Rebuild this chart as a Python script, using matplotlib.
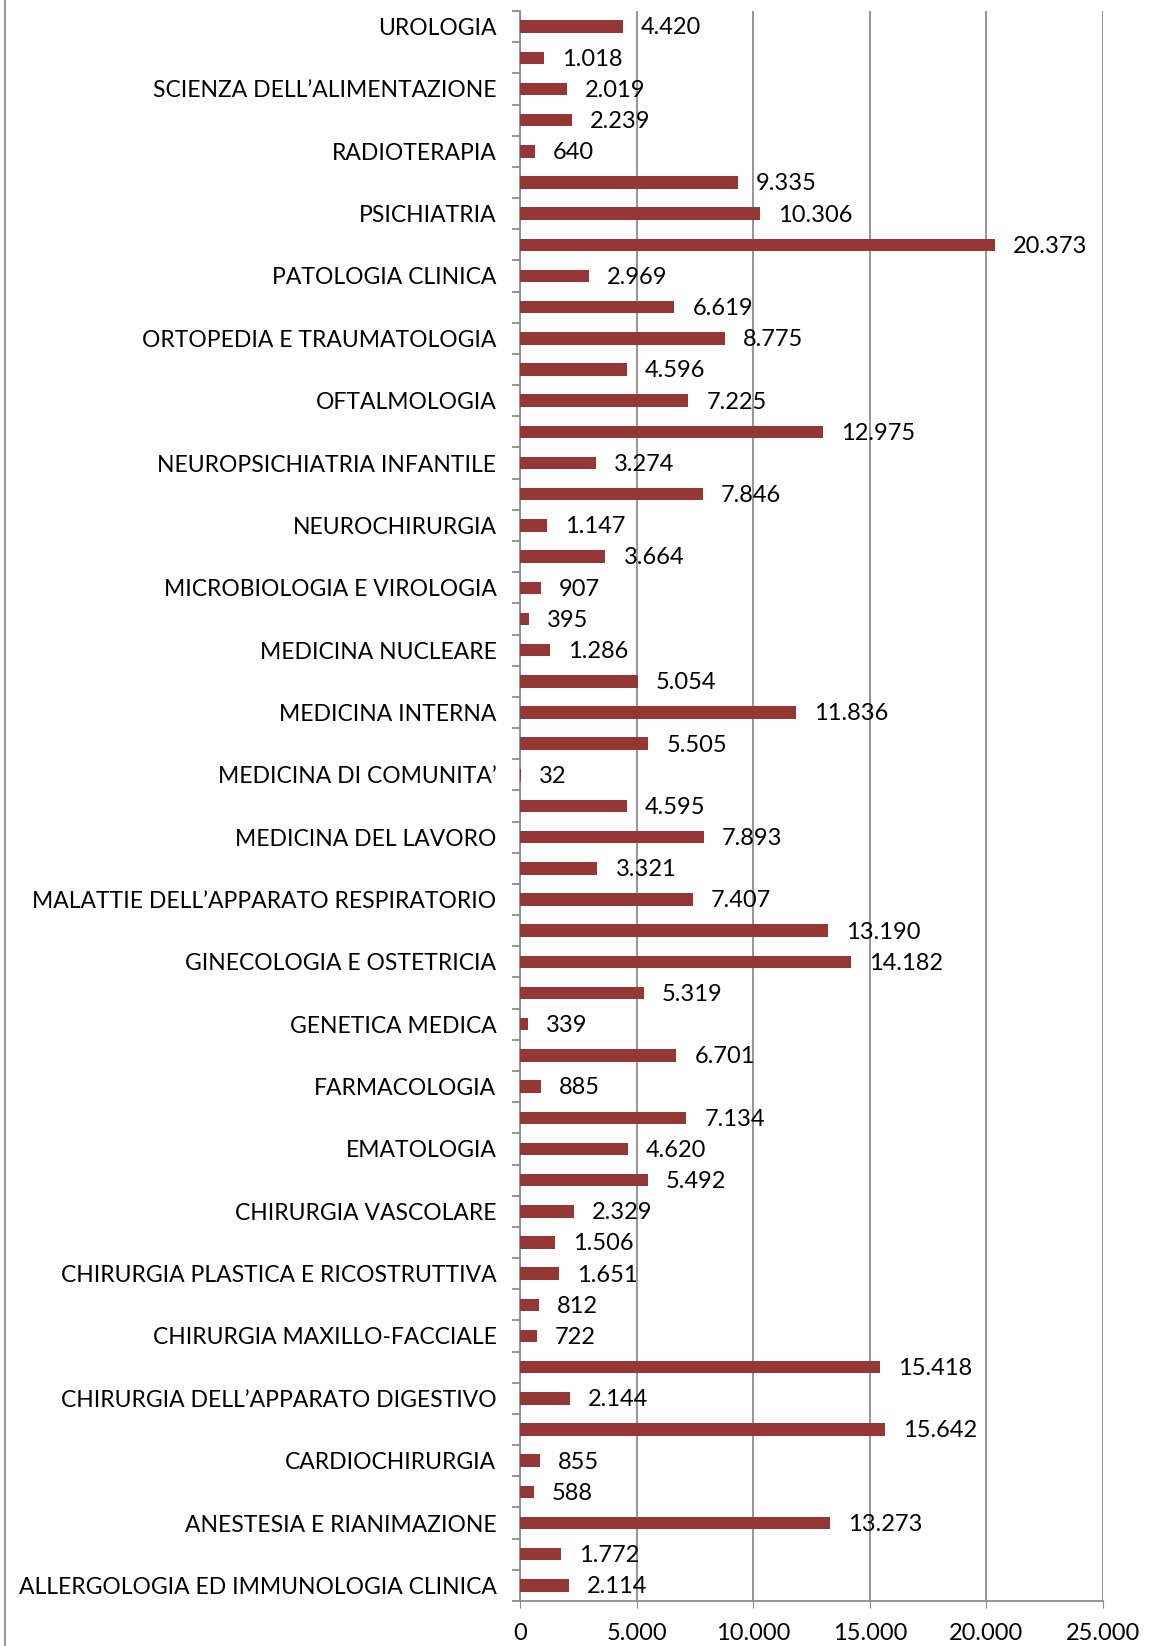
import matplotlib
matplotlib.use('Agg')
import matplotlib.pyplot as plt
from matplotlib import font_manager
from matplotlib.ticker import FixedLocator, MultipleLocator, FuncFormatter

# values from bottom bar to top bar
values = [2114, 1772, 13273, 588, 855, 15642, 2144, 15418, 722, 812,
          1651, 1506, 2329, 5492, 4620, 7134, 885, 6701, 339, 5319,
          14182, 13190, 7407, 3321, 7893, 4595, 32, 5505, 11836, 5054,
          1286, 395, 907, 3664, 1147, 7846, 3274, 12975, 7225, 4596,
          8775, 6619, 2969, 20373, 10306, 9335, 640, 2239, 2019, 1018,
          4420]

# shown on every other bar, starting from the bottom one
labels = [
    'ALLERGOLOGIA ED IMMUNOLOGIA CLINICA',
    'ANESTESIA E RIANIMAZIONE',
    'CARDIOCHIRURGIA',
    'CHIRURGIA DELL\u2019APPARATO DIGESTIVO',
    'CHIRURGIA MAXILLO-FACCIALE',
    'CHIRURGIA PLASTICA E RICOSTRUTTIVA',
    'CHIRURGIA VASCOLARE',
    'EMATOLOGIA',
    'FARMACOLOGIA',
    'GENETICA MEDICA',
    'GINECOLOGIA E OSTETRICIA',
    'MALATTIE DELL\u2019APPARATO RESPIRATORIO',
    'MEDICINA DEL LAVORO',
    'MEDICINA DI COMUNITA\u2019',
    'MEDICINA INTERNA',
    'MEDICINA NUCLEARE',
    'MICROBIOLOGIA E VIROLOGIA',
    'NEUROCHIRURGIA',
    'NEUROPSICHIATRIA INFANTILE',
    'OFTALMOLOGIA',
    'ORTOPEDIA E TRAUMATOLOGIA',
    'PATOLOGIA CLINICA',
    'PSICHIATRIA',
    'RADIOTERAPIA',
    'SCIENZA DELL\u2019ALIMENTAZIONE',
    'UROLOGIA',
]

x_ticks = [0, 5000, 10000, 15000, 20000, 25000]

BAR_COLOR = '#953735'
GRID_COLOR = '#8c8c8c'

installed = {f.name for f in font_manager.fontManager.ttflist}
family = 'Liberation Sans Narrow' if 'Liberation Sans Narrow' in installed else 'Lato'
plt.rcParams['font.family'] = family
FS = 17
FS_CAT = 16.5


def it_fmt(v, pos=None):
    return f"{int(v):,}".replace(',', '.')


W, H = 1167, 1646
fig = plt.figure(figsize=(W / 100, H / 100), dpi=100)
ax = fig.add_axes([520 / W, 1 - 1601 / H, (1103 - 520) / W, (1601 - 11) / H])

ypos = list(range(len(values)))
ax.barh(ypos, values, height=0.4, color=BAR_COLOR, zorder=3)

for y, v in zip(ypos, values):
    ax.annotate(it_fmt(v), (v, y), xytext=(13, -1), textcoords='offset points',
                ha='left', va='center', fontsize=FS, color='black', zorder=4)

ax.set_xlim(0, 25000)
ax.set_ylim(-0.5, len(values) - 0.5)

ax.xaxis.set_major_locator(FixedLocator(x_ticks))
ax.xaxis.set_major_formatter(FuncFormatter(it_fmt))
ax.grid(axis='x', color=GRID_COLOR, linewidth=1.3, zorder=0)
ax.tick_params(axis='x', direction='out', length=5, color=GRID_COLOR,
               labelsize=FS, pad=11)

# category labels on every other bar, tick marks between categories
ax.set_yticks(ypos[::2])
ax.set_yticklabels(labels, fontsize=FS_CAT)
ax.tick_params(axis='y', which='major', length=0, pad=17)
ax.yaxis.set_minor_locator(MultipleLocator(1, offset=0.5))
ax.tick_params(axis='y', which='minor', direction='out', length=6,
               color=GRID_COLOR, width=1.3)

for side in ['top', 'right']:
    ax.spines[side].set_visible(False)
for side in ['left', 'bottom']:
    ax.spines[side].set_color(GRID_COLOR)
    ax.spines[side].set_linewidth(1.3)

# chart area border visible on the left edge
fig.add_artist(plt.Line2D([5 / W, 5 / W], [0, 1], color='#9a9a9a', linewidth=1.5))

fig.savefig('out.png', dpi=100)
